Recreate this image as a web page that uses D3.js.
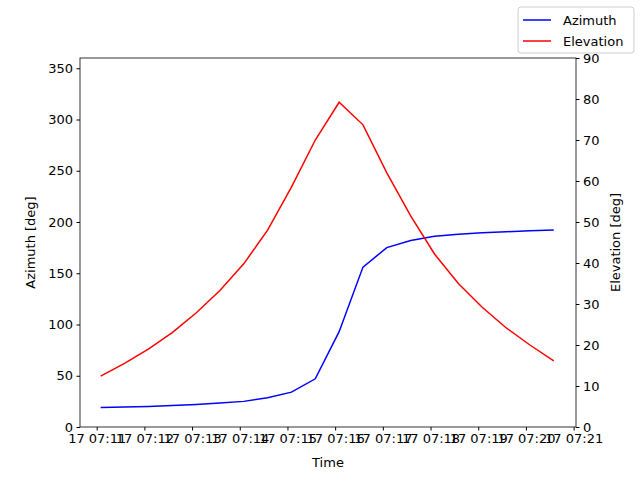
<!DOCTYPE html><html><head><script src="https://cdn.jsdelivr.net/npm/d3@7"></script>
<style>body{margin:0}text{font-family:"DejaVu Sans";}</style></head><body><svg id="c" width="640" height="480"></svg>
<script>
const times=["07:11:05","07:11:35","07:12:05","07:12:35","07:13:05","07:13:35","07:14:05","07:14:35","07:15:05","07:15:35","07:16:05","07:16:35","07:17:05","07:17:35","07:18:05","07:18:35","07:19:05","07:19:35","07:20:05","07:20:35"];
const azimuth=[19,19.5,20,21,22,23.3,25,28.5,34,47,93,156,175,182,186,188,189.5,190.5,191.5,192.3];
const elevation=[12.4,15.5,19,23,27.8,33.3,39.8,48,58.5,70,79.2,73.7,62,51.5,42.2,35,29.2,24.2,20,16.1];
const xTicks=["07:11","07:12","07:13","07:14","07:15","07:16","07:17","07:18","07:19","07:20","07:21"];
const azTicks=[0,50,100,150,200,250,300,350], elTicks=[0,10,20,30,40,50,60,70,80,90];
const p=s=>{const a=s.split(":").map(Number);return new Date(2024,0,17,a[0],a[1],a[2]||0);};
const svg=d3.select("#c"),L=80,R=576,T=58,B=427;
const x=d3.scaleTime().domain([p("07:10:39"),p("07:21:03")]).range([L,R]);
const yl=d3.scaleLinear().domain([0,360]).range([B,T]);
const yr=d3.scaleLinear().domain([0,90]).range([B,T]);
const fmt=d3.timeFormat("%d %H:%M");
const ax=svg.append("g").attr("transform",`translate(0,${B})`).call(d3.axisBottom(x).tickValues(xTicks.map(t=>p(t))).tickFormat(fmt).tickSizeOuter(0).tickSize(3.5).tickPadding(3.5));
svg.append("g").attr("transform",`translate(${L},0)`).call(d3.axisLeft(yl).tickValues(azTicks).tickSizeOuter(0).tickSize(3.5).tickPadding(3.5));
svg.append("g").attr("transform",`translate(${R},0)`).call(d3.axisRight(yr).tickValues(elTicks).tickSizeOuter(0).tickSize(3.5).tickPadding(3.5));
svg.selectAll(".tick text").attr("font-size",13).attr("fill","#000").style("font-family","DejaVu Sans");
svg.selectAll(".domain").remove();
svg.append("rect").attr("x",L).attr("y",T).attr("width",R-L).attr("height",B-T).attr("fill","none").attr("stroke","#000").attr("stroke-width",0.8);
const ln=(d,y,c)=>svg.append("path").datum(d).attr("fill","none").attr("stroke",c).attr("stroke-width",1.5)
 .attr("d",d3.line().x((v,i)=>x(p(times[i]))).y(v=>y(v)));
ln(azimuth,yl,"blue");ln(elevation,yr,"red");
svg.append("text").attr("x",(L+R)/2).attr("y",467).attr("text-anchor","middle").attr("font-size",13).text("Time");
svg.append("text").attr("transform",`translate(35,${(T+B)/2}) rotate(-90)`).attr("text-anchor","middle").attr("font-size",13).text("Azimuth [deg]");
svg.append("text").attr("transform",`translate(620,${(T+B)/2}) rotate(-90)`).attr("text-anchor","middle").attr("font-size",13).text("Elevation [deg]");
const lg=svg.append("g");
lg.append("rect").attr("x",518).attr("y",7).attr("width",116).attr("height",46).attr("rx",3).attr("fill","#fff").attr("stroke","#ccc");
[["Azimuth","blue"],["Elevation","red"]].forEach((d,i)=>{const yy=20+i*21;
 lg.append("line").attr("x1",523).attr("x2",551).attr("y1",yy).attr("y2",yy).attr("stroke",d[1]).attr("stroke-width",1.5);
 lg.append("text").attr("x",563).attr("y",yy+4.5).attr("font-size",13).text(d[0]);});
</script></body></html>
